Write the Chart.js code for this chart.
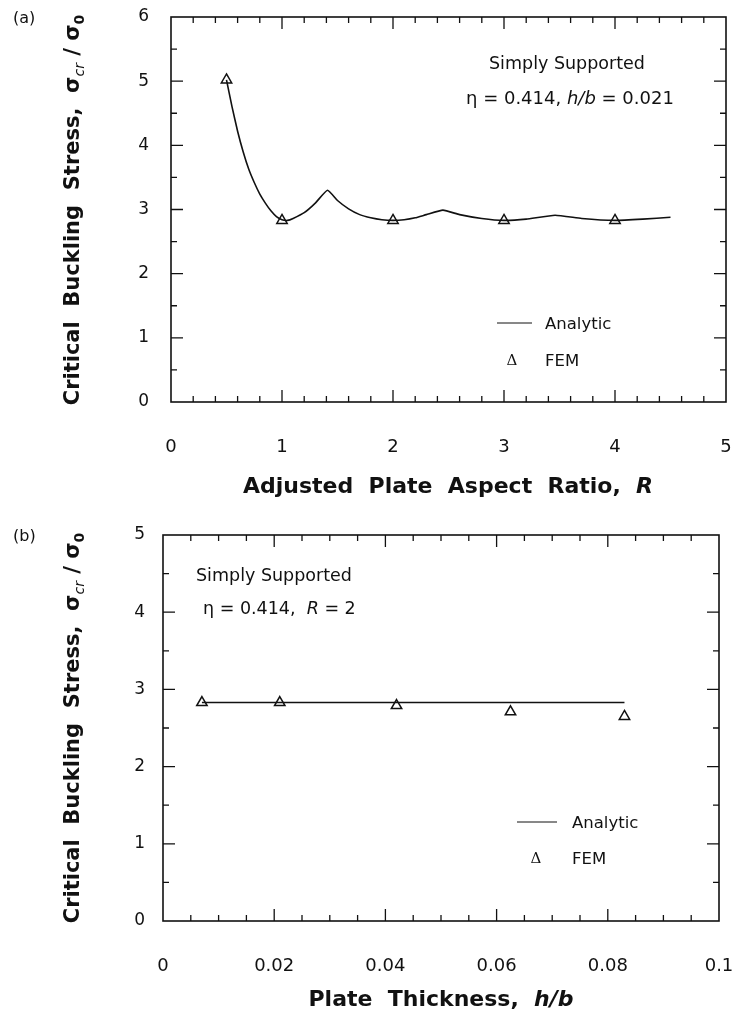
<!DOCTYPE html>
<html>
<head>
<meta charset="utf-8">
<script src="https://cdn.jsdelivr.net/npm/chart.js@4.4.1/dist/chart.umd.min.js"></script>
<style>
  html, body { margin: 0; padding: 0; background: #fff; }
  .panel { position: absolute; left: 0; width: 736px; }
  #pa { top: 0; height: 515px; }
  #pb { top: 518px; height: 505px; }
</style>
</head>
<body>
<div class="panel" id="pa"><canvas id="ca" width="736" height="515"></canvas></div>
<div class="panel" id="pb"><canvas id="cb" width="736" height="505"></canvas></div>
<script>
// ---- Panel (a): buckling stress vs adjusted plate aspect ratio ----
const aspectR = [0.5, 0.55, 0.6, 0.65, 0.7, 0.75, 0.8, 0.85, 0.9, 0.95, 1.0, 1.05, 1.1, 1.2, 1.3, 1.41,
                 1.5, 1.6, 1.7, 1.8, 1.9, 2.0, 2.1, 2.2, 2.3, 2.45, 2.6, 2.8, 3.0, 3.2, 3.46, 3.7, 4.0, 4.25, 4.5];
const analyticA = [5.02, 4.60, 4.22, 3.90, 3.63, 3.42, 3.24, 3.10, 2.98, 2.89, 2.84, 2.83, 2.86, 2.95, 3.10, 3.30,
                   3.14, 3.01, 2.92, 2.87, 2.84, 2.83, 2.84, 2.87, 2.92, 2.99, 2.92, 2.86, 2.83, 2.85, 2.91, 2.86, 2.83, 2.85, 2.88];
const femAspectR = [0.5, 1, 2, 3, 4];
const femA = [5.02, 2.83, 2.83, 2.83, 2.83];
const xTickLabelsA = ['0', '1', '2', '3', '4', '5'];
const yTickLabelsA = ['0', '1', '2', '3', '4', '5', '6'];

// ---- Panel (b): buckling stress vs plate thickness ----
const thicknessHB = [0.007, 0.021, 0.042, 0.0625, 0.083];
const analyticB = [2.83, 2.83, 2.83, 2.83, 2.83];
const femHB = [0.007, 0.021, 0.042, 0.0625, 0.083];
const femB = [2.83, 2.83, 2.79, 2.71, 2.65];
const xTickLabelsB = ['0', '0.02', '0.04', '0.06', '0.08', '0.1'];
const yTickLabelsB = ['0', '1', '2', '3', '4', '5'];

const INK = '#111';
const SANS = "'DejaVu Sans', 'Liberation Sans', sans-serif";

// draw a sequence of differently styled text pieces starting/centered at an anchor
function drawRuns(ctx, runs, x, y, align, angle) {
  ctx.save();
  ctx.translate(x, y);
  if (angle) ctx.rotate(angle);
  ctx.fillStyle = INK;
  ctx.textBaseline = 'alphabetic';
  ctx.textAlign = 'left';
  let total = 0;
  for (const r of runs) { ctx.font = r.font; r.w = ctx.measureText(r.t).width; total += r.w; }
  let cx = align === 'center' ? -total / 2 : 0;
  for (const r of runs) { ctx.font = r.font; ctx.fillText(r.t, cx, r.dy || 0); cx += r.w; }
  ctx.restore();
}

// frame around the plot with inward ticks on all four sides
const framePlugin = {
  id: 'frame',
  afterDraw(chart, args, o) {
    const { ctx, chartArea: a, scales: { x, y } } = chart;
    ctx.save();
    ctx.strokeStyle = INK;
    ctx.lineWidth = 1.6;
    ctx.strokeRect(a.left, a.top, a.right - a.left, a.bottom - a.top);
    ctx.lineWidth = 1.3;
    ctx.beginPath();
    const nx = Math.round((o.xMax - o.xMin) / o.xMinor);
    const perX = Math.round(o.xMajor / o.xMinor);
    for (let i = 1; i < nx; i++) {
      const px = x.getPixelForValue(o.xMin + i * o.xMinor);
      const len = i % perX === 0 ? 12 : 6;
      ctx.moveTo(px, a.bottom); ctx.lineTo(px, a.bottom - len);
      ctx.moveTo(px, a.top); ctx.lineTo(px, a.top + len);
    }
    const ny = Math.round((o.yMax - o.yMin) / o.yMinor);
    const perY = Math.round(o.yMajor / o.yMinor);
    for (let i = 1; i < ny; i++) {
      const py = y.getPixelForValue(o.yMin + i * o.yMinor);
      const len = i % perY === 0 ? 12 : 6;
      ctx.moveTo(a.left, py); ctx.lineTo(a.left + len, py);
      ctx.moveTo(a.right, py); ctx.lineTo(a.right - len, py);
    }
    ctx.stroke();
    ctx.restore();
  }
};

// axis titles, notes and legend
const textPlugin = {
  id: 'texts',
  afterDraw(chart, args, o) {
    const ctx = chart.ctx;
    for (const item of o.items) drawRuns(ctx, item.runs, item.x, item.y, item.align, item.angle);
    const lg = o.legend;
    ctx.save();
    ctx.strokeStyle = INK;
    ctx.lineWidth = 1;
    ctx.beginPath();
    ctx.moveTo(lg.lineX0, lg.lineY); ctx.lineTo(lg.lineX1, lg.lineY);
    ctx.stroke();
    ctx.restore();
    drawRuns(ctx, [{ t: 'Analytic', font: '16.5px ' + SANS }], lg.textX, lg.lineY + 6, 'left');
    drawRuns(ctx, [{ t: 'Δ', font: "15px 'DejaVu Serif', 'Liberation Serif', serif" }], lg.symX, lg.femY + 5, 'center');
    drawRuns(ctx, [{ t: 'FEM', font: '16.5px ' + SANS }], lg.textX, lg.femY + 6, 'left');
  }
};

function yTitleRuns() {
  const b = 'bold 21px ' + SANS;
  return [
    { t: 'Critical  Buckling  Stress,  σ', font: b },
    { t: 'cr', font: 'italic 14px ' + SANS, dy: 5 },
    { t: ' / σ', font: b },
    { t: '0', font: 'bold 14px ' + SANS, dy: 5 }
  ];
}

function xTitleRuns(plain, italic) {
  return [
    { t: plain, font: 'bold 22px ' + SANS },
    { t: italic, font: 'italic bold 22px ' + SANS }
  ];
}

function makePanel(canvas, cfg) {
  return new Chart(canvas, {
    type: 'line',
    data: {
      datasets: [
        {
          label: 'Analytic',
          data: cfg.lineX.map((v, i) => ({ x: v, y: cfg.lineY[i] })),
          borderColor: INK,
          borderWidth: 1.6,
          pointRadius: 0,
          tension: 0.15,
          fill: false
        },
        {
          label: 'FEM',
          data: cfg.femX.map((v, i) => ({ x: v, y: cfg.femY[i] })),
          showLine: false,
          pointStyle: 'triangle',
          pointRadius: 6,
          pointBorderWidth: 1.5,
          pointBorderColor: INK,
          pointBackgroundColor: '#fff'
        }
      ]
    },
    options: {
      responsive: false,
      devicePixelRatio: 1,
      animation: false,
      layout: { padding: { top: 17, right: cfg.padRight, left: 0, bottom: 0 } },
      plugins: {
        legend: { display: false },
        tooltip: { enabled: false },
        frame: cfg.frame,
        texts: cfg.texts
      },
      scales: {
        x: {
          type: 'linear', position: 'bottom',
          min: cfg.frame.xMin, max: cfg.frame.xMax,
          grid: { display: false }, border: { display: false },
          ticks: {
            stepSize: cfg.frame.xMajor, color: INK, padding: 27, maxRotation: 0,
            font: { family: SANS, size: 18 },
            callback: (v, i) => cfg.xLabels[i]
          },
          afterFit: s => { s.height = cfg.xHeight; s.paddingLeft = 0; s.paddingRight = 0; }
        },
        y: {
          type: 'linear', position: 'left',
          min: cfg.frame.yMin, max: cfg.frame.yMax,
          grid: { display: false }, border: { display: false },
          ticks: {
            stepSize: cfg.frame.yMajor, color: INK, padding: cfg.yPad,
            font: { family: SANS, size: 17 },
            callback: (v, i) => cfg.yLabels[i]
          },
          afterFit: s => { s.width = cfg.yWidth; s.paddingTop = 0; s.paddingBottom = 0; }
        }
      }
    },
    plugins: [framePlugin, textPlugin]
  });
}

makePanel(document.getElementById('ca'), {
  lineX: aspectR, lineY: analyticA, femX: femAspectR, femY: femA,
  xLabels: xTickLabelsA, yLabels: yTickLabelsA,
  padRight: 10, yWidth: 171, xHeight: 113, yPad: 14,
  frame: { xMin: 0, xMax: 5, xMajor: 1, xMinor: 0.2, yMin: 0, yMax: 6, yMajor: 1, yMinor: 0.5 },
  texts: {
    items: [
      { runs: [{ t: '(a)', font: '16px ' + SANS }], x: 13, y: 23, align: 'left' },
      { runs: yTitleRuns(), x: 79, y: 210, align: 'center', angle: -Math.PI / 2 },
      { runs: xTitleRuns('Adjusted  Plate  Aspect  Ratio,  ', 'R'), x: 448, y: 493, align: 'center' },
      { runs: [{ t: 'Simply Supported', font: '17.5px ' + SANS }], x: 489, y: 69, align: 'left' },
      { runs: [{ t: 'η = 0.414, ', font: '18px ' + SANS },
               { t: 'h/b', font: 'italic 18px ' + SANS },
               { t: ' = 0.021', font: '18px ' + SANS }], x: 466, y: 104, align: 'left' }
    ],
    legend: { lineX0: 497, lineX1: 532, lineY: 323, textX: 545, symX: 512, femY: 360 }
  }
});

makePanel(document.getElementById('cb'), {
  lineX: thicknessHB, lineY: analyticB, femX: femHB, femY: femB,
  xLabels: xTickLabelsB, yLabels: yTickLabelsB,
  padRight: 17, yWidth: 163, xHeight: 102, yPad: 10,
  frame: { xMin: 0, xMax: 0.1, xMajor: 0.02, xMinor: 0.005, yMin: 0, yMax: 5, yMajor: 1, yMinor: 0.5 },
  texts: {
    items: [
      { runs: [{ t: '(b)', font: '16px ' + SANS }], x: 13, y: 23, align: 'left' },
      { runs: yTitleRuns(), x: 79, y: 210, align: 'center', angle: -Math.PI / 2 },
      { runs: xTitleRuns('Plate  Thickness,  ', 'h/b'), x: 441, y: 488, align: 'center' },
      { runs: [{ t: 'Simply Supported', font: '17.5px ' + SANS }], x: 196, y: 63, align: 'left' },
      { runs: [{ t: 'η = 0.414,  ', font: '17.5px ' + SANS },
               { t: 'R', font: 'italic 17.5px ' + SANS },
               { t: ' = 2', font: '17.5px ' + SANS }], x: 203, y: 96, align: 'left' }
    ],
    legend: { lineX0: 517, lineX1: 557, lineY: 304, textX: 572, symX: 536, femY: 340 }
  }
});
</script>
</body>
</html>
